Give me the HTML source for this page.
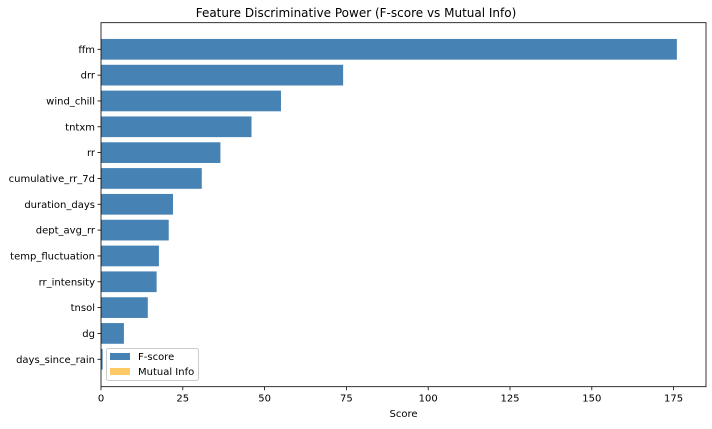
<!DOCTYPE html>
<html><head><meta charset="utf-8"><style>
body{margin:0;background:#fff;font-family:"Liberation Sans","DejaVu Sans",sans-serif}
svg text{font-family:"DejaVu Sans","Liberation Sans",sans-serif}
</style></head><body>
<svg id="c" width="712" height="424" xmlns="http://www.w3.org/2000/svg"></svg>
<script>
const categories=["ffm","drr","wind_chill","tntxm","rr","cumulative_rr_7d","duration_days","dept_avg_rr","temp_fluctuation","rr_intensity","tnsol","dg","days_since_rain"];
const fscore=[176,74,55,46,36.5,30.8,22,20.7,17.7,17,14.3,7,0.5];
const mutualInfo=[0.05,0.04,0.03,0.03,0.03,0.02,0.02,0.02,0.02,0.02,0.01,0.01,0.01];
const xTicks=[0,25,50,75,100,125,150,175];
const NS="http://www.w3.org/2000/svg";
const svg=document.getElementById('c');
const L=101,R=706,T=22.7,B=386.7;
const x=v=>L+v*3.272;
const y=i=>49.3+i*25.83;
const bh=20.7;
function mk(t,a,txt){const e=document.createElementNS(NS,t);for(const k in a)e.setAttribute(k,a[k]);if(txt!==undefined)e.textContent=txt;svg.appendChild(e);return e;}
let e;
e=mk('text',{x:356,y:17,'text-anchor':'middle','font-size':12},'Feature Discriminative Power (F-score vs Mutual Info)');


categories.forEach((c,i)=>{
 e=mk('rect',{x:x(0),y:y(i)-bh/2,width:x(fscore[i])-x(0),height:bh,fill:'#4682b4'});
 
 
 e=mk('rect',{x:x(0),y:y(i)-bh/2,width:x(mutualInfo[i])-x(0),height:bh,fill:'#ffc966'});
 
 
 e=mk('line',{x1:L-3.5,x2:L,y1:y(i),y2:y(i),stroke:'#000','stroke-width':0.8});
 
 
 e=mk('text',{x:L-6,y:y(i)+3.5,'text-anchor':'end','font-size':10},c);
 
 
});
xTicks.forEach(t=>{
 e=mk('line',{x1:x(t),x2:x(t),y1:B,y2:B+3.5,stroke:'#000','stroke-width':0.8});
 
 
 e=mk('text',{x:x(t),y:B+15,'text-anchor':'middle','font-size':10},String(t));
 
 
});
e=mk('rect',{x:L,y:T,width:R-L,height:B-T,fill:'none',stroke:'#000','stroke-width':0.8});


e=mk('text',{x:(L+R)/2,y:417,'text-anchor':'middle','font-size':10},'Score');


e=mk('rect',{x:106.5,y:348.5,width:92,height:32,rx:2,fill:'#fff',stroke:'#ccc','stroke-width':1});


e=mk('rect',{x:110,y:353,width:20,height:7,fill:'#4682b4'});


e=mk('text',{x:138,y:360,'font-size':10},'F-score');


e=mk('rect',{x:110,y:368,width:20,height:7,fill:'#ffc966'});


e=mk('text',{x:138,y:375,'font-size':10},'Mutual Info');


</script>
</body></html>
